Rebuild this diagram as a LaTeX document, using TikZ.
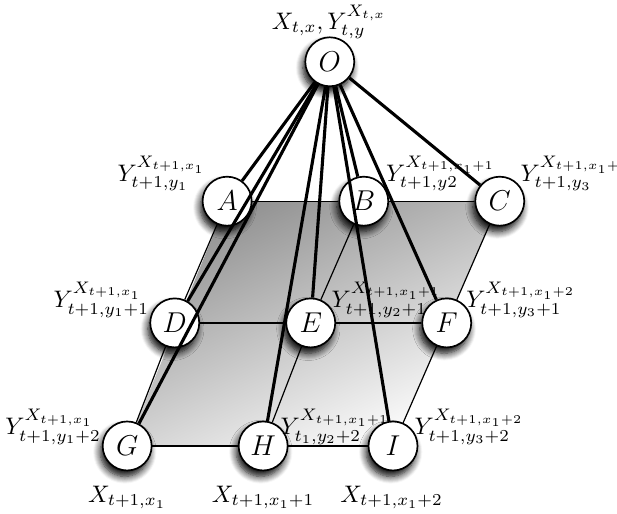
\documentclass[tikz,border=0pt]{standalone}
\usetikzlibrary{shadows.blur,backgrounds}
\begin{document}
\begin{tikzpicture}
		[place/.style={circle,draw=black,fill=white,line width=0.7pt,
inner sep=0pt,minimum size=20.5pt,font=\large,
blur shadow={shadow xshift=-1pt,shadow yshift=-2.5pt,shadow blur radius=3pt,shadow blur steps=8,shadow opacity=100}},
		textstyle/.style={inner sep=0pt},
		gridstyle/.style={-,line width=0.5pt},
		edgestyle/.style={-,line width=1.3pt}]
		\useasboundingbox (0,0) rectangle (9.074,7.559);
		\node at (3.34, 4.60) (A) [place] {$A$};
		\node at (5.35, 4.60) (B) [place] {$B$}
			edge [gridstyle] (A);
		\node at (7.35, 4.60) (C) [place] {$C$}
			edge [gridstyle] (B);
		\node at (2.57, 2.81) (D) [place] {$D$}
			edge [gridstyle] (A);
		\node at (4.57, 2.81) (E) [place] {$E$}
			edge [gridstyle] (D)
			edge [gridstyle] (B);
		\node at (6.57, 2.81) (F) [place] {$F$}
			edge [gridstyle] (E)
			edge [gridstyle] (C);
		\node at (1.87, 1.00) (G) [place] {$G$}
			edge [gridstyle] (D);
		\node at (3.87, 1.00) (H) [place] {$H$}
			edge [gridstyle] (G)
			edge [gridstyle] (E);
		\node at (5.78, 1.00) (I) [place] {$I$}
			edge [gridstyle] (H)
			edge [gridstyle] (F);
		\node at (4.85, 6.65) (O) [place] {$O$}
			edge [edgestyle] (A)
			edge [edgestyle] (B)
			edge [edgestyle] (C)
			edge [edgestyle] (D)
			edge [edgestyle] (E)
			edge [edgestyle] (F)
			edge [edgestyle] (G)
			edge [edgestyle] (H)
			edge [edgestyle] (I);
		\begin{scope}[on background layer]
			\shade[top color=black!44,bottom color=black!0,shading angle=25]
				(A.center) -- (C.center) -- (I.center) -- (G.center) -- cycle;
		\end{scope}
		\node at (4.84, 7.24) (textO) [textstyle] {$X_{t,x},Y_{t,y}^{X_{t,x}}$};
		\node at (2.38, 5.01) (textA) [textstyle] {$Y_{t+1,y_1}^{X_{t+1,x_1}}$};
		\node at (6.48, 5.01) (textB) [textstyle] {$Y_{t+1,y2}^{X_{t+1,x_1+1}}$};
		\node at (8.46, 5.01) (textC) [textstyle] {$Y_{t+1,y_3}^{X_{t+1,x_1+2}}$};
		\node at (1.49, 3.15) (textD) [textstyle] {$Y_{t+1,y_1+1}^{X_{t+1,x_1}}$};
		\node at (5.68, 3.15) (textE) [textstyle] {$Y_{t+1,y_2+1}^{X_{t+1,x_1+1}}$};
		\node at (7.66, 3.15) (textF) [textstyle] {$Y_{t+1,y_3+1}^{X_{t+1,x_1+2}}$};
		\node at (0.78, 1.28) (textG) [textstyle] {$Y_{t+1,y_1+2}^{X_{t+1,x_1}}$};
		\node at (4.93, 1.28) (textH) [textstyle] {$Y_{t_1,y_2+2}^{X_{t+1,x_1+1}}$};
		\node at (6.90, 1.28) (textI) [textstyle] {$Y_{t+1,y_3+2}^{X_{t+1,x_1+2}}$};
		\node at (1.87, 0.24) (xG) [textstyle] {$X_{t+1,x_1}$};
		\node at (3.87, 0.24) (xH) [textstyle] {$X_{t+1,x_1+1}$};
		\node at (5.76, 0.24) (xI) [textstyle] {$X_{t+1,x_1+2}$};
	\end{tikzpicture}
\end{document}
